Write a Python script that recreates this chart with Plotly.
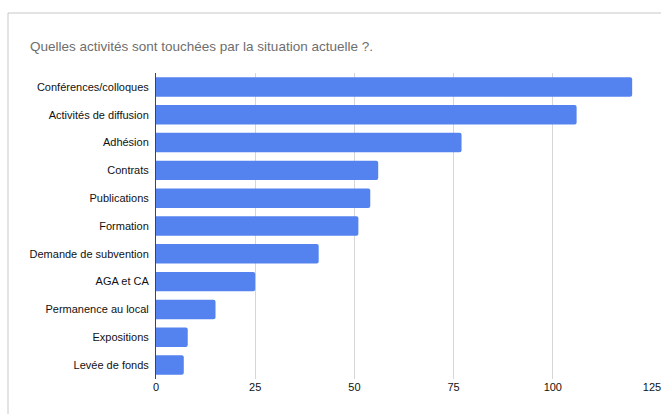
import plotly.graph_objects as go

categories = ["Conférences/colloques", "Activités de diffusion", "Adhésion", "Contrats",
              "Publications", "Formation", "Demande de subvention", "AGA et CA",
              "Permanence au local", "Expositions", "Levée de fonds"]
values = [120, 106, 77, 56, 54, 51, 41, 25, 15, 8, 7]
x_ticks = [0, 25, 50, 75, 100, 125]
title_text = "Quelles activités sont touchées par la situation actuelle ?."

W, H = 661, 414
L, T, R, B = 156, 73, 9, 35
pw, ph = W - L - R, H - T - B

fig = go.Figure(go.Bar(
    x=values, y=categories, orientation="h",
    marker=dict(color="#5483F0", line=dict(width=0)),
))

fig.update_layout(
    width=W, height=H,
    margin=dict(l=L, r=R, t=T, b=B, autoexpand=False),
    paper_bgcolor="white", plot_bgcolor="white",
    bargap=0.3,
    barcornerradius=2,
    showlegend=False,
    font=dict(family="Liberation Sans, Arial, sans-serif", color="#111111", size=11),
    title=dict(text=title_text, x=30/W, xanchor="left", y=1-46/H, yanchor="middle",
               font=dict(size=13.5, color="#6E6E6E", family="Liberation Sans, Arial, sans-serif")),
    xaxis=dict(range=[0, 125], tickvals=x_ticks, showgrid=True, gridcolor="#D6D6D6",
               gridwidth=1, zeroline=False, showline=False, ticks="",
               ticklabeloverflow="allow", automargin=False,
               tickfont=dict(size=11, color="#111111")),
    yaxis=dict(autorange="reversed", showgrid=False, showline=True, linecolor="#444444",
               linewidth=1, ticks="", ticklabelstandoff=4, automargin=False,
               tickfont=dict(size=11, color="#111111")),
    shapes=[dict(type="rect", xref="paper", yref="paper",
                 x0=(8 - L) / pw, x1=1.2, y0=-0.3, y1=(H - 13 - B) / ph,
                 line=dict(color="#C8C8C8", width=1), fillcolor="rgba(0,0,0,0)", layer="below")],
)

fig.write_html("out.html",
               config={"displayModeBar": False},
               post_script="document.body.style.margin='0';document.body.style.overflow='hidden';")
